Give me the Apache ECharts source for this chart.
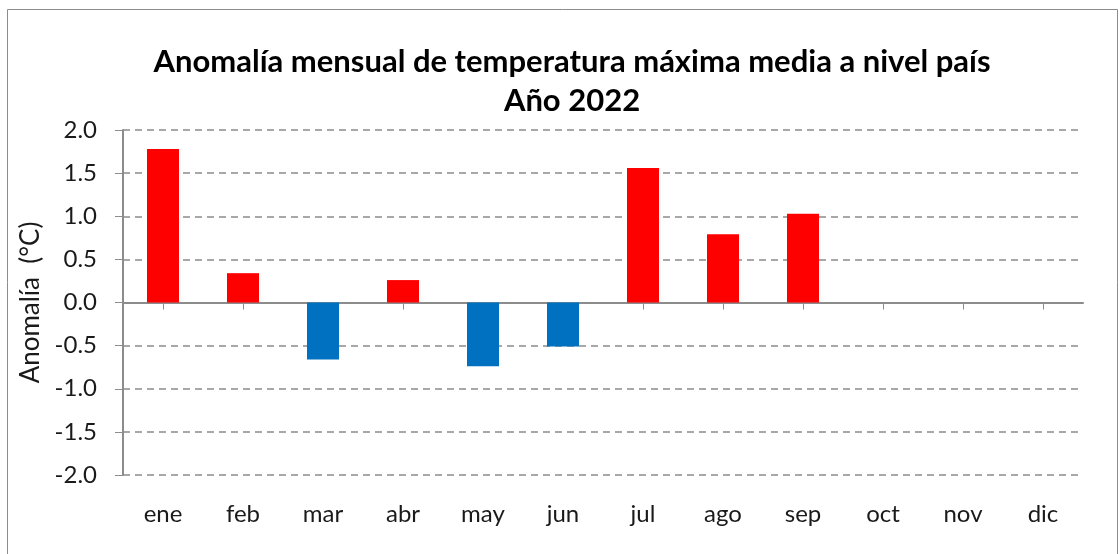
<!DOCTYPE html>
<html>
<head>
<meta charset="utf-8">
<script src="https://cdn.jsdelivr.net/npm/echarts@6/dist/echarts.min.js"></script>
<style>
  html, body { margin: 0; padding: 0; background: #fff; }
  #chart { width: 1120px; height: 554px; }
</style>
</head>
<body>
<div id="chart"></div>
<script>
// months and anomaly values (°C)
const months = ['ene', 'feb', 'mar', 'abr', 'may', 'jun', 'jul', 'ago', 'sep', 'oct', 'nov', 'dic']
const anomaly = [1.78, 0.34, -0.66, 0.26, -0.74, -0.51, 1.56, 0.79, 1.03, null, null, null]
const yTicks = [-2.0, 2.0, 0.5] // min, max, interval

const FONT = 'Lato, "Open Sans", sans-serif'
const RED = '#FF0000'
const BLUE = '#0070C0'

const chart = echarts.init(document.getElementById('chart'), null, { renderer: 'canvas' })

chart.setOption({
  animation: false,
  backgroundColor: '#fff',
  graphic: [
    {
      type: 'rect',
      shape: { x: 7.5, y: 9.5, width: 1110, height: 600 },
      style: { fill: 'none', stroke: '#8c8c8c', lineWidth: 1 },
      silent: true,
    },
  ],
  title: {
    text: 'Anomalía mensual de temperatura máxima media a nivel país\nAño 2022',
    left: 567,
    top: 37,
    textAlign: 'center',
    textStyle: {
      fontFamily: FONT,
      fontWeight: 'bold',
      fontSize: 31,
      lineHeight: 39,
      color: '#000',
    },
  },
  grid: { left: 123, right: 37, top: 130, bottom: 79 },
  xAxis: [
    {
      type: 'category',
      data: months,
      position: 'bottom',
      axisLine: { show: false, onZero: false },
      axisTick: { show: false },
      axisLabel: { fontFamily: FONT, fontSize: 24, color: '#1a1a1a', margin: 27 },
    },
    {
      // axis line drawn through zero
      type: 'category',
      data: months,
      position: 'bottom',
      axisLine: { show: true, onZero: true, lineStyle: { color: '#8c8c8c', width: 2 } },
      axisTick: { show: true, alignWithLabel: true, length: 7, lineStyle: { color: '#8c8c8c' } },
      axisLabel: { show: false },
    },
  ],
  yAxis: {
    type: 'value',
    min: yTicks[0],
    max: yTicks[1],
    interval: yTicks[2],
    name: 'Anomalía  (°C)',
    nameLocation: 'middle',
    nameGap: 75,
    nameTextStyle: { fontFamily: FONT, fontSize: 26, color: '#1a1a1a' },
    axisLine: { show: true, lineStyle: { color: '#8c8c8c', width: 2 } },
    axisTick: { show: true, length: 8, lineStyle: { color: '#8c8c8c' } },
    axisLabel: {
      fontFamily: FONT,
      fontSize: 24,
      color: '#1a1a1a',
      margin: 26,
      formatter: v => v.toFixed(1),
    },
    splitLine: { show: true, lineStyle: { color: '#8c8c8c', type: [7, 5], width: 1.5 } },
  },
  series: [
    {
      type: 'bar',
      xAxisIndex: 0,
      data: anomaly,
      barWidth: '40%',
      itemStyle: {
        color: p => (p.value < 0 ? BLUE : RED),
      },
    },
  ],
})
</script>
</body>
</html>
